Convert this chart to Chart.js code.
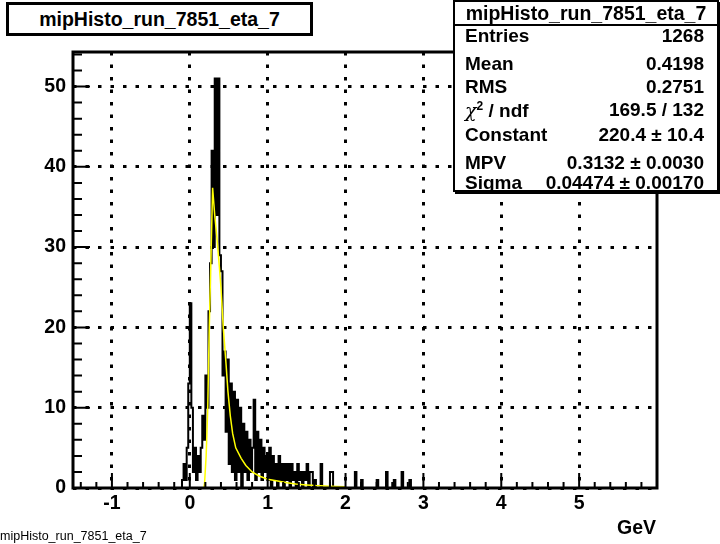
<!DOCTYPE html>
<html><head><meta charset="utf-8">
<script src="https://cdn.jsdelivr.net/npm/chart.js@4/dist/chart.umd.min.js"></script>
<style>
body{margin:0;background:#fff;}
#wrap{position:relative;width:720px;height:544px;overflow:hidden;background:#fff}
canvas{position:absolute;left:0;top:0}
.t{position:absolute;font-family:"Liberation Sans",Arial,Helvetica,sans-serif;font-weight:bold;color:#000;white-space:nowrap}
#title{left:6px;top:2px;width:301px;height:28px;border:3px solid #000;font-size:19.5px;line-height:28px;text-align:center;background:#fff}
#stats{left:453px;top:0;width:262px;height:188px;border:2px solid #000;background:#fff;box-shadow:2px 2px 0 #000}
#stats .sep{position:absolute;left:0;top:22px;width:262px;height:0;border-top:2px solid #000}
#stats .row{position:absolute;left:10px;right:13px;height:22px;line-height:22px;font-size:19px}
#stats .row .l{position:absolute;left:0}
#stats .row .r{position:absolute;right:0}
#stats .hdr{position:absolute;left:0;width:262px;top:0;height:22px;line-height:22px;text-align:center;font-size:19.5px}
#gev{left:617px;top:516px;font-size:19.5px}
#foot{left:0;top:529px;font-size:12.5px;font-weight:normal}
.chi{font-family:"DejaVu Serif",serif;font-weight:normal;font-style:italic}
.sup{font-size:12px;position:relative;top:-7px}
</style></head>
<body>
<div id="wrap">
<canvas id="c" width="720" height="544"></canvas>
<div class="t" id="title">mipHisto_run_7851_eta_7</div>
<div class="t" id="stats">
  <div class="hdr">mipHisto_run_7851_eta_7</div>
  <div class="sep"></div>
  <div class="row" style="top:23px"><span class="l">Entries</span><span class="r">1268</span></div>
  <div class="row" style="top:51px"><span class="l">Mean</span><span class="r">0.4198</span></div>
  <div class="row" style="top:74px"><span class="l">RMS</span><span class="r">0.2751</span></div>
  <div class="row" style="top:97px"><span class="l"><span class="chi">χ</span><span class="sup">2</span> / ndf</span><span class="r">169.5 / 132</span></div>
  <div class="row" style="top:122px"><span class="l">Constant</span><span class="r">220.4 ± 10.4</span></div>
  <div class="row" style="top:150px"><span class="l">MPV</span><span class="r">0.3132 ± 0.0030</span></div>
  <div class="row" style="top:170px"><span class="l">Sigma</span><span class="r">0.04474 ± 0.00170</span></div>
</div>
<div class="t" id="gev">GeV</div>
<div class="t" id="foot">mipHisto_run_7851_eta_7</div>
</div>
<script>
// ---- data ----
const binStart = -0.10;   // low edge of first listed bin (GeV)
const binWidth = 0.02;    // GeV
const counts = [
 1,3,1,5,13,23,10,2,5,1,
 4,2,5,9,6,14,10,22,28,42,
 30,51,34,51,29,27,14,17,7,16,
 3,13,2,12,1,11,2,10,0,8,
 2,7,1,6,2,5,11,1,7,2,
 6,1,5,2,4,1,5,0,4,1,
 3,0,4,1,3,0,3,1,3,0,
 3,1,2,0,3,1,2,0,2,1,
 3,0,2,2,0,1,0,0,0,3,
 0,0,0,0,0,2,2,0,0,0,
 0,0,0,0,0,0,0,0,0,0,
 0,2,0,0,0,1,0,0,0,0,
 0,0,0,0,0,1,0,0,0,0,
 0,2,0,0,0,0,1,0,0,0,
 0,2,0,0,0,0,1,0
];
const fitX = [0.18,0.19,0.21,0.23,0.25,0.27,0.293,0.32,0.35,0.38,0.40,0.43,0.465,0.49,0.52,0.55,0.59,0.66,0.72,0.80,0.89,1.00,1.11,1.25,1.36,1.50,1.62,1.80,2.00];
const fitY = [0,0.7,4,9.8,20,28,37.4,34,31,27.5,25,20,15.5,12,9,6.8,5,3.7,2.8,2.0,1.5,1.1,0.9,0.65,0.5,0.38,0.3,0.22,0.17];
const xTickLabels = [-1,0,1,2,3,4,5];
const yTickLabels = [0,10,20,30,40,50];
const xRange = [-1.5, 6];
const yRange = [0, 54.3];

// ---- build datasets ----
const histPts = [{x: binStart - binWidth/2, y: 0}];
counts.forEach((c,i)=>histPts.push({x: binStart + (i+0.5)*binWidth, y: c}));
histPts.push({x: binStart + (counts.length+0.5)*binWidth, y: 0});
const fitPts = fitX.map((x,i)=>({x, y: fitY[i]}));

const FONT = {family:'"Liberation Sans", Arial, sans-serif', weight:'bold', size:19.5};

const framePlugin = {
  id:'frame',
  afterDatasetsDraw(chart){
    const {ctx, chartArea:a, scales:{x,y}} = chart;
    ctx.save();
    ctx.strokeStyle='#000';
    ctx.lineWidth=2;
    ctx.setLineDash([]);
    ctx.beginPath();
    for (let k=-7; k<=29; k++){
      const v = k*0.2;
      if (v < xRange[0] || v > xRange[1]) continue;
      const px = x.getPixelForValue(v);
      const major = (k % 5 === 0);
      ctx.moveTo(px, a.bottom);
      ctx.lineTo(px, a.bottom - (major ? 15 : 6));
    }
    for (let k=0; k<=27; k++){
      const v = k*2;
      if (v > yRange[1]) continue;
      const py = y.getPixelForValue(v);
      const major = (k % 5 === 0);
      ctx.moveTo(a.left, py);
      ctx.lineTo(a.left + (major ? 17 : 9), py);
    }
    ctx.stroke();
    ctx.lineWidth=3;
    ctx.strokeRect(a.left, a.top, a.right-a.left, a.bottom-a.top);
    ctx.restore();
  }
};

new Chart(document.getElementById('c'), {
  type:'line',
  data:{datasets:[
    {data: fitPts, borderColor:'#ffff00', borderWidth:1.5, pointRadius:0, tension:0, fill:false},
    {data: histPts, borderColor:'#000', borderWidth:2, pointRadius:0, stepped:'middle', fill:false}
  ]},
  options:{
    responsive:false, animation:false, devicePixelRatio:1,
    layout:{padding:{left:0, top:52, right:63, bottom:0}},
    plugins:{legend:{display:false}, tooltip:{enabled:false}, title:{display:false}},
    scales:{
      x:{type:'linear', min:xRange[0], max:xRange[1],
         afterBuildTicks: s => { s.ticks = xTickLabels.map(v=>({value:v})); },
         afterFit: s => { s.height = 56; },
         grid:{color:'#000', lineWidth:3, drawTicks:false},
         border:{display:false, dash:[3.5,9]},
         ticks:{color:'#000', font:FONT, padding:4, maxRotation:0, autoSkip:false, callback:v=>String(v)}},
      y:{type:'linear', min:yRange[0], max:yRange[1],
         afterBuildTicks: s => { s.ticks = yTickLabels.map(v=>({value:v})); },
         afterFit: s => { s.width = 73; },
         grid:{color:'#000', lineWidth:3, drawTicks:false},
         border:{display:false, dash:[3.5,9]},
         ticks:{color:'#000', font:FONT, padding:7, autoSkip:false, callback:v=>String(v)}}
    }
  },
  plugins:[framePlugin]
});
</script>
</body></html>
